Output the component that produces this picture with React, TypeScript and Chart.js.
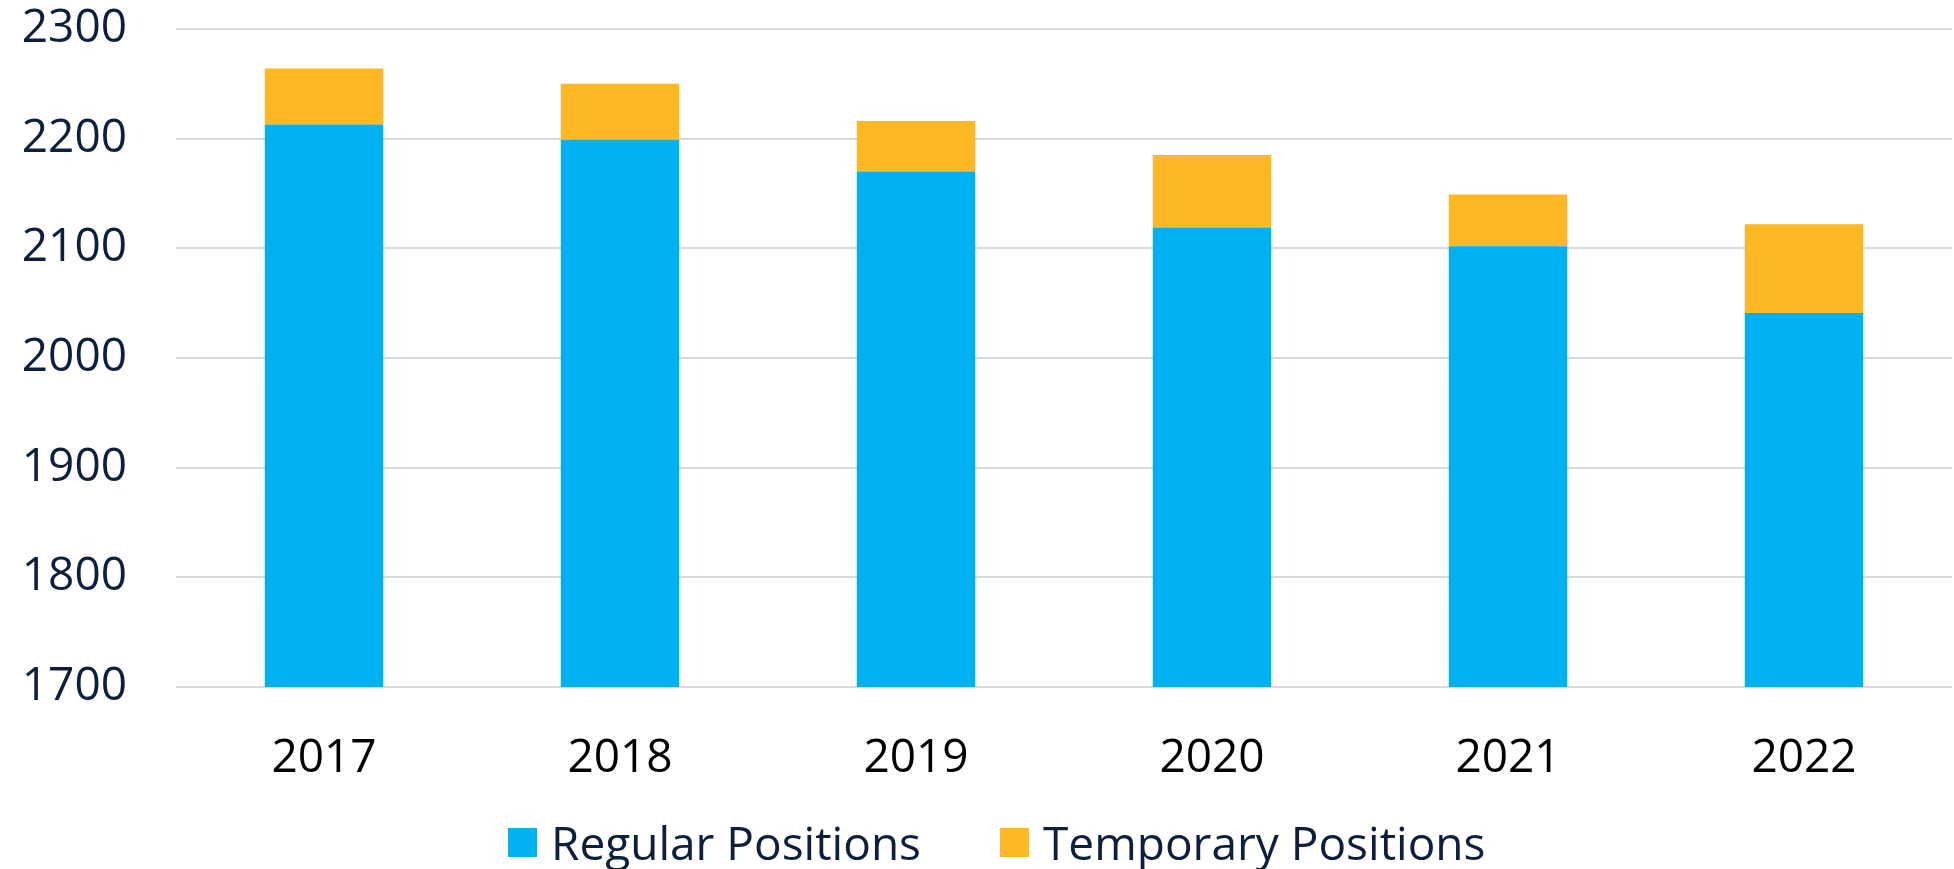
import React, { useEffect, useRef } from "react";
import { Chart, registerables } from "chart.js";

Chart.register(...registerables);

const years = ["2017", "2018", "2019", "2020", "2021", "2022"];
const regularPositions = [2213, 2199, 2170, 2119, 2102, 2041];
const temporaryPositions = [51, 51, 46, 66, 47, 81];
const seriesLabels = ["Regular Positions", "Temporary Positions"];
const seriesColors = ["#00B0F0", "#FDB823"];
const yMin = 1700;
const yMax = 2300;
const yStep = 100;

const FONT = "'Open Sans', 'Noto Sans', sans-serif";
const NAVY = "#0D1F3C";

export default function App() {
  const canvasRef = useRef<HTMLCanvasElement | null>(null);

  useEffect(() => {
    const canvas = canvasRef.current;
    if (!canvas) return;
    const chart = new Chart(canvas, {
      type: "bar",
      data: {
        labels: years,
        datasets: [
          {
            label: seriesLabels[0],
            data: regularPositions,
            backgroundColor: seriesColors[0],
            borderWidth: 0,
          },
          {
            label: seriesLabels[1],
            data: temporaryPositions,
            backgroundColor: seriesColors[1],
            borderWidth: 0,
          },
        ],
      },
      options: {
        animation: false,
        responsive: false,
        maintainAspectRatio: false,
        datasets: {
          bar: { barPercentage: 0.4, categoryPercentage: 1.0 },
        },
        layout: { padding: { left: 0, right: 2, top: 29, bottom: 0 } },
        plugins: {
          legend: { display: false },
          tooltip: { enabled: false },
        },
        scales: {
          x: {
            stacked: true,
            grid: { display: false },
            border: { display: false },
            ticks: {
              color: "#000000",
              font: { family: FONT, size: 46, lineHeight: 1.2 },
              padding: 36,
              maxRotation: 0,
            },
            afterFit: (scale: any) => {
              scale.height = 182;
            },
          },
          y: {
            stacked: true,
            min: yMin,
            max: yMax,
            grid: { color: "#D9D9D9", lineWidth: 2, drawTicks: false },
            border: { display: false },
            ticks: {
              stepSize: yStep,
              color: NAVY,
              font: { family: FONT, size: 46, lineHeight: 1 },
              padding: 49,
              callback: (value: any) => String(value),
            },
            afterFit: (scale: any) => {
              scale.width = 176;
              scale.paddingTop = 0;
              scale.paddingBottom = 0;
            },
          },
        },
      },
    });
    return () => chart.destroy();
  }, []);

  const legendItem = (i: number) => (
    <div key={i} style={{ display: "flex", alignItems: "center" }}>
      <div
        style={{
          width: 29,
          height: 29,
          background: seriesColors[i],
          marginRight: 14,
        }}
      />
      <span
        style={{
          fontFamily: FONT,
          fontSize: 46,
          lineHeight: "46px",
          color: NAVY,
          whiteSpace: "nowrap",
        }}
      >
        {seriesLabels[i]}
      </span>
    </div>
  );

  return (
    <div
      style={{
        position: "fixed",
        left: 0,
        top: 0,
        width: 1954,
        height: 869,
        background: "#FFFFFF",
      }}
    >
      <canvas ref={canvasRef} width={1954} height={869} style={{ display: "block" }} />
      <div
        style={{
          position: "absolute",
          left: 508,
          top: 819,
          display: "flex",
          alignItems: "center",
          gap: 79,
        }}
      >
        {legendItem(0)}
        {legendItem(1)}
      </div>
    </div>
  );
}
